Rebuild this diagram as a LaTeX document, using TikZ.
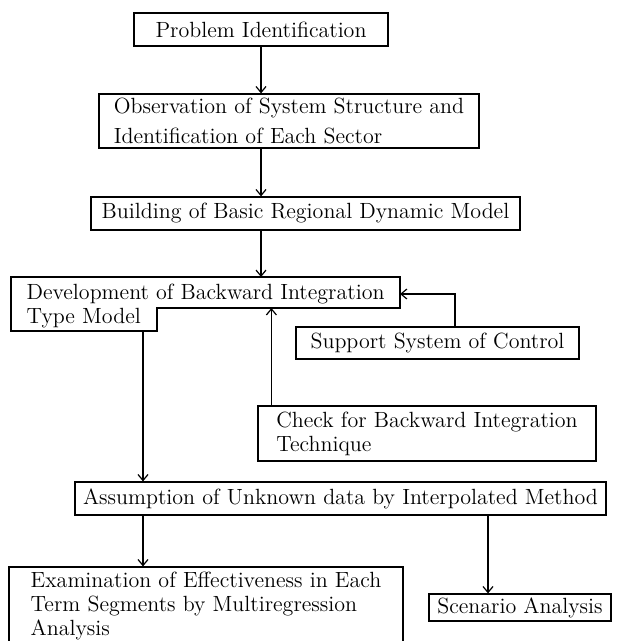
\documentclass[tikz,border=0pt]{standalone}
\usetikzlibrary{arrows.meta}

\tikzset{
  box/.style={draw, semithick, inner sep=0pt, align=left,
    font=\fontsize{11}{12}\selectfont},
  arr/.style={semithick, -{Straight Barb[length=3pt,width=5pt]}},
}

\begin{document}
\begin{tikzpicture}[x=0.5pt, y=-0.5pt]
  \useasboundingbox (0, 0) rectangle (620, 641);

  % Problem identification
  \node [box, minimum width=127pt, minimum height=16.5pt] (prob) at (261, 29.5)
    {Problem Identification};

  % Observation
  \node [box, minimum width=190pt, minimum height=27pt,
    font=\fontsize{11}{15}\selectfont] (obs) at (289, 121)
    {Observation of System Structure and\\Identification of Each Sector};
  \draw [arr] (prob.south) -- (prob.south |- obs.north);

  % Basic model
  \node [box, minimum width=214.5pt, minimum height=16.5pt] (build) at (305.5, 213.5)
    {Building of Basic Regional Dynamic Model};
  \draw [arr] (obs.south -| prob) -- (build.north -| prob);

  % Backward integration model
  \coordinate (devtop) at (11, 277);
  \coordinate (deve) at (400, 294);
  \coordinate (devn) at (157, 308);
  \coordinate (devout) at (143, 331);
  \draw [semithick] (devtop) -- (400, 277) -- (400, 308) -- (devn) -- (157, 331)
    -- (11, 331) -- cycle;
  \node [box, draw=none, anchor=west] (dev) at (26, 306)
    {Development of Backward Integration\\Type Model};
  \draw [arr] (build.south -| prob) -- (prob |- devtop);

  % Support system
  \node [box, minimum width=141.5pt, minimum height=16pt] (support) at (437.5, 343)
    {Support System of Control};
  \coordinate (suptop) at ([xshift=8.75pt]support.north);
  \draw [arr] (suptop) |- (deve);

  % Check
  \node [box, minimum width=169pt, minimum height=27.5pt] (check) at (427, 433.5)
    {Check for Backward Integration\\Technique};
  \coordinate (chktop) at ([xshift=7pt]check.north west);
  \draw [arr] (chktop) -- (chktop |- devn);

  % Interpolation
  \node [box, minimum width=265.5pt, minimum height=16.5pt] (assume) at (340.5, 498.5)
    {Assumption of Unknown data by Interpolated Method};
  \draw [arr] (devout) -- (devout |- assume.north);

  % Examination
  \node [box, minimum width=197pt, minimum height=39pt] (exam) at (206, 606)
    {Examination of Effectiveness in Each\\Term Segments by Multiregression\\Analysis};
  \draw [arr] (devout |- assume.south) -- (devout |- exam.north);

  % Scenario
  \node [box, minimum width=91pt, minimum height=13.5pt] (scen) at (520, 607.5)
    {Scenario Analysis};
  \coordinate (scentop) at ([xshift=-16pt]scen.north);
  \draw [arr] (scentop |- assume.south) -- (scentop);
\end{tikzpicture}
\end{document}
